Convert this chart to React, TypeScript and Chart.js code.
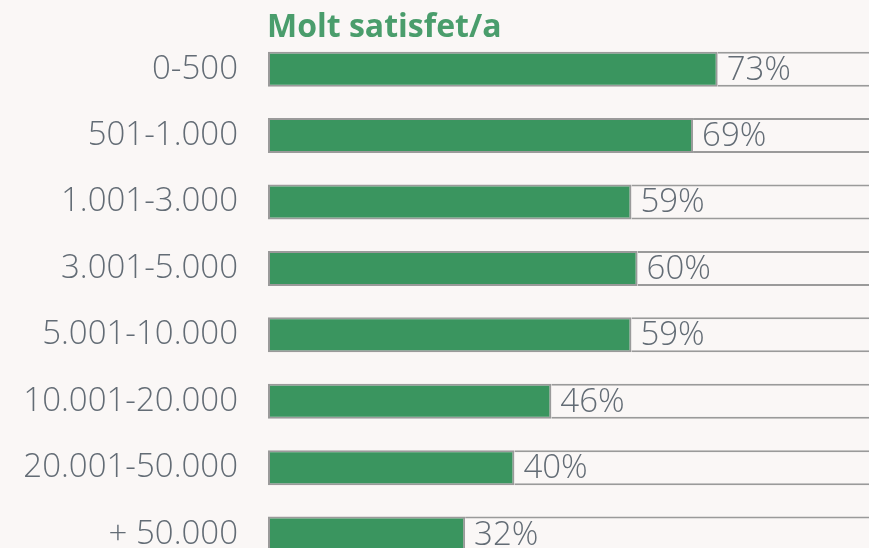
import React, { useEffect, useRef } from "react";
import { Chart, registerables } from "chart.js";

Chart.register(...registerables);

const categories = [
  "0-500",
  "501-1.000",
  "1.001-3.000",
  "3.001-5.000",
  "5.001-10.000",
  "10.001-20.000",
  "20.001-50.000",
  "+ 50.000",
];
const satisfied = [73, 69, 59, 60, 59, 46, 40, 32];
const totalScale = 100;
const titleText = "Molt satisfet/a";

const BG = "#faf7f6";
const GREEN = "#3a955f";
const TITLE_GREEN = "#4a9d6c";
const GREY_TEXT = "#636c75";
const BORDER = "#9a9a9a";
const FONT = "'Open Sans', 'DejaVu Sans', sans-serif";

export default function App() {
  const ref = useRef<HTMLCanvasElement | null>(null);
  useEffect(() => {
    if (!ref.current) return;
    const remainder = satisfied.map((v) => totalScale - v);
    const labelsPlugin = {
      id: "valueLabels",
      afterDatasetsDraw(chart: any) {
        const ctx = chart.ctx;
        const meta = chart.getDatasetMeta(0);
        ctx.save();
        ctx.font = `300 33px ${FONT}`;
        ctx.fillStyle = GREY_TEXT;
        ctx.textAlign = "left";
        ctx.textBaseline = "middle";
        meta.data.forEach((bar: any, i: number) => {
          ctx.fillText(satisfied[i] + "%", bar.x + 9, bar.y + 1);
        });
        ctx.font = `700 32px ${FONT}`;
        ctx.fillStyle = TITLE_GREEN;
        ctx.textBaseline = "alphabetic";
        ctx.fillText(titleText, chart.chartArea.left - 1, 37);
        ctx.restore();
      },
    };
    const chart = new Chart(ref.current, {
      type: "bar",
      data: {
        labels: categories,
        datasets: [
          {
            data: satisfied,
            backgroundColor: GREEN,
            borderColor: BORDER,
            borderWidth: 2,
            borderSkipped: false,
            barPercentage: 0.527,
            categoryPercentage: 1,
          },
          {
            data: remainder,
            backgroundColor: BG,
            borderColor: BORDER,
            borderWidth: 2,
            borderSkipped: "start",
            barPercentage: 0.527,
            categoryPercentage: 1,
          },
        ],
      },
      options: {
        indexAxis: "y",
        animation: false,
        responsive: false,
        maintainAspectRatio: false,
        devicePixelRatio: 1,
        layout: { padding: { left: 0, right: 16, top: 36, bottom: 32.7 } },
        plugins: { legend: { display: false }, tooltip: { enabled: false }, title: { display: false } },
        scales: {
          x: { display: false, stacked: true, min: 0, max: totalScale },
          y: {
            stacked: true,
            grid: { display: false, drawTicks: false, tickLength: 0 },
            border: { display: false },
            ticks: {
              padding: 30,
              color: GREY_TEXT,
              font: { family: FONT, size: 33, weight: "300" as any },
            },
            afterFit(scale: any) {
              scale.width = 268;
              scale.paddingTop = 0;
              scale.paddingBottom = 0;
            },
          },
        },
      },
      plugins: [labelsPlugin],
    });
    return () => chart.destroy();
  }, []);
  return (
    <div
      style={{
        position: "fixed",
        left: 0,
        top: 0,
        width: 869,
        height: 548,
        overflow: "hidden",
        background: BG,
      }}
    >
      <canvas ref={ref} width={900} height={600} style={{ display: "block" }} />
    </div>
  );
}
